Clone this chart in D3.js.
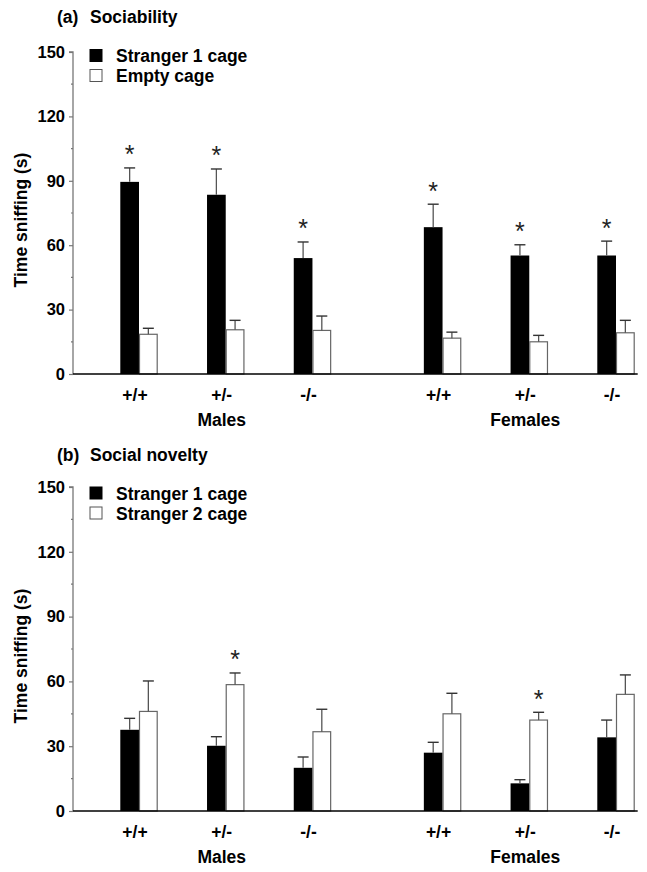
<!DOCTYPE html>
<html>
<head>
<meta charset="utf-8">
<script src="https://cdn.jsdelivr.net/npm/d3@7"></script>
<style>
  html, body { margin: 0; padding: 0; background: #fff; }
  svg { display: block; }
  text { font-family: "Liberation Sans", Arial, Helvetica, sans-serif; }
</style>
</head>
<body>
<svg id="chart" width="647" height="872"></svg>
<script>
// ---------- data ----------
const genotypes = ["+/+", "+/-", "-/-"];
const sexes = ["Males", "Females"];
const yTicks = [0, 30, 60, 90, 120, 150];

// (a) Sociability
const socTitle = ["(a)", "Sociability"];
const socLegend = ["Stranger 1 cage", "Empty cage"];
const socStranger1 = [89.5, 83.5, 54, 68.4, 55.2, 55.2];
const socStranger1Err = [6.5, 12, 7.5, 10.7, 5, 6.7];
const socEmpty = [18.5, 20.6, 20.3, 16.7, 15, 19.2];
const socEmptyErr = [2.8, 4.4, 6.7, 2.8, 3, 5.8];
const socSigS1 = [true, true, true, true, true, true];
const socSigS2 = [false, false, false, false, false, false];

// (b) Social novelty
const novTitle = ["(b)", "Social novelty"];
const novLegend = ["Stranger 1 cage", "Stranger 2 cage"];
const novStranger1 = [37.6, 30.2, 20, 27, 12.8, 34.1];
const novStranger1Err = [5.3, 4.2, 5, 4.8, 1.7, 8];
const novStranger2 = [46.1, 58.5, 36.7, 45, 42.1, 54];
const novStranger2Err = [14.1, 5.4, 10.4, 9.5, 3.6, 9];
const novSigS1 = [false, false, false, false, false, false];
const novSigS2 = [false, true, false, false, true, false];

// ---------- layout ----------
const svg = d3.select("#chart");
const axisX = 73;
const barW = 18.7;
const groupGap = 1.5; // slot gap between sexes (in slots)
const slots = [];
sexes.forEach((s, si) => genotypes.forEach((g, gi) => slots.push(si * (genotypes.length + groupGap - 1) + gi)));
const x = d3.scaleLinear().domain([0, d3.max(slots)]).range([139, 616]);

const panels = [
  { title: socTitle, legend: socLegend, s1: socStranger1, e1: socStranger1Err, s2: socEmpty, e2: socEmptyErr,
    sig1: socSigS1, sig2: socSigS2, yRange: [374, 52], titleY: 23, legendDy: [3.5, 23.5] },
  { title: novTitle, legend: novLegend, s1: novStranger1, e1: novStranger1Err, s2: novStranger2, e2: novStranger2Err,
    sig1: novSigS1, sig2: novSigS2, yRange: [811, 487], titleY: 461, legendDy: [6, 26] }
];

const fontBold = "bold";

panels.forEach(p => {
  const y = d3.scaleLinear().domain([0, 150]).range(p.yRange);
  const g = svg.append("g");

  // title
  g.append("text").attr("x", 57).attr("y", p.titleY)
    .attr("font-size", 17.5).attr("font-weight", fontBold).text(p.title[0]);
  g.append("text").attr("x", 90).attr("y", p.titleY)
    .attr("font-size", 17.5).attr("font-weight", fontBold).text(p.title[1]);

  // y axis
  const yAxis = d3.axisLeft(y).tickValues(yTicks).tickSize(4).tickPadding(4).tickFormat(d3.format("d"));
  const ya = g.append("g").attr("transform", `translate(${axisX},0)`).call(yAxis);
  ya.select(".domain").attr("stroke", "#777").attr("stroke-width", 1.3).attr("d", `M-4,${y(150)}H0V${y(0)}`);
  ya.selectAll(".tick line").attr("stroke", "#777").attr("stroke-width", 1.2);
  ya.selectAll(".tick text").attr("font-size", 16.5).attr("font-weight", fontBold)
    .attr("fill", "#000").attr("font-family", "Liberation Sans, Arial, sans-serif");
  const minor = d3.range(15, 150, 30);
  ya.selectAll(".minor").data(minor).enter().append("line")
    .attr("class", "minor").attr("x1", -2).attr("x2", 0)
    .attr("y1", d => y(d)).attr("y2", d => y(d)).attr("stroke", "#777").attr("stroke-width", 1.2);

  // y label
  const ymid = (p.yRange[0] + p.yRange[1]) / 2 + 7;
  g.append("text").attr("transform", `translate(26.5,${ymid}) rotate(-90)`)
    .attr("text-anchor", "middle").attr("font-size", 17.5).attr("font-weight", fontBold)
    .text("Time sniffing (s)");

  // bars
  slots.forEach((sl, i) => {
    const cx = x(sl);
    g.append("rect").attr("x", cx - barW).attr("y", y(p.s1[i])).attr("width", barW)
      .attr("height", y(0) - y(p.s1[i])).attr("fill", "#000");
    g.append("rect").attr("x", cx + 0.5).attr("y", y(p.s2[i])).attr("width", barW - 1)
      .attr("height", y(0) - y(p.s2[i])).attr("fill", "#fff").attr("stroke", "#666").attr("stroke-width", 1.2);

    [[cx - barW / 2, p.s1[i], p.e1[i]], [cx + barW / 2, p.s2[i], p.e2[i]]].forEach(([ex, v, e]) => {
      g.append("line").attr("x1", ex).attr("x2", ex).attr("y1", y(v)).attr("y2", y(v + e))
        .attr("stroke", "#555").attr("stroke-width", 1.3);
      g.append("line").attr("x1", ex - 5.5).attr("x2", ex + 5.5).attr("y1", y(v + e)).attr("y2", y(v + e))
        .attr("stroke", "#333").attr("stroke-width", 1.4);
    });

    [[cx - barW / 2, p.s1[i] + p.e1[i], p.sig1[i]], [cx + barW / 2, p.s2[i] + p.e2[i], p.sig2[i]]].forEach(([ax, top, sig]) => {
      if (!sig) return;
      g.append("text").attr("x", ax).attr("y", y(top) - 17 + 12.5)
        .attr("text-anchor", "middle").attr("font-size", 25).attr("fill", "#222")
        .attr("font-family", "DejaVu Sans, sans-serif").text("*");
    });

    g.append("text").attr("x", cx - 4).attr("y", y(0) + 27)
      .attr("text-anchor", "middle").attr("font-size", 17.5).attr("font-weight", fontBold)
      .text(genotypes[i % genotypes.length]);
  });

  // x baseline
  g.append("line").attr("x1", axisX).attr("x2", x(d3.max(slots)) + barW + 3)
    .attr("y1", y(0)).attr("y2", y(0)).attr("stroke", "#000").attr("stroke-width", 1.3);

  // group labels
  sexes.forEach((s, si) => {
    const mid = x(slots[si * genotypes.length + 1]);
    g.append("text").attr("x", mid - 4).attr("y", y(0) + 51.5)
      .attr("text-anchor", "middle").attr("font-size", 17.5).attr("font-weight", fontBold).text(s);
  });

  // legend
  p.legend.forEach((l, li) => {
    const cy = y(150) + p.legendDy[li];
    g.append("rect").attr("x", 90).attr("y", cy - 6).attr("width", 12).attr("height", 12)
      .attr("fill", li === 0 ? "#000" : "#fff").attr("stroke", li === 0 ? "#000" : "#555").attr("stroke-width", 1);
    g.append("text").attr("x", 116).attr("y", cy + 6.5)
      .attr("font-size", 17.5).attr("font-weight", fontBold).text(l);
  });
});
</script>
</body>
</html>
